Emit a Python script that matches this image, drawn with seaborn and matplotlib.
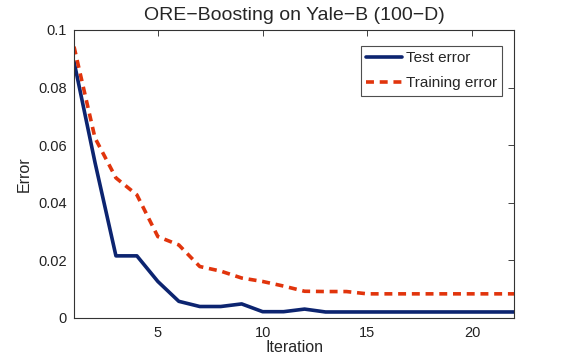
import numpy as np
import pandas as pd
import matplotlib
matplotlib.use("Agg")
import matplotlib.pyplot as plt
import seaborn as sns

# Données
iterations = list(range(1, 23))
test_error = [0.089, 0.054, 0.0215, 0.0215, 0.0126, 0.0057, 0.0039, 0.0039, 0.0048, 0.0021, 0.0021,
              0.003, 0.002, 0.002, 0.002, 0.002, 0.002, 0.002, 0.002, 0.002, 0.002, 0.002]
train_error = [0.0942, 0.0625, 0.0486, 0.0427, 0.0282, 0.0253, 0.0178, 0.0162, 0.0138, 0.0126, 0.011,
               0.0092, 0.0091, 0.0091, 0.0083, 0.0083, 0.0083, 0.0083, 0.0083, 0.0083, 0.0083, 0.0083]

df = pd.DataFrame({"Iteration": iterations, "Test error": test_error, "Training error": train_error})

sns.set_style("white")
plt.rcParams["font.family"] = ["Liberation Sans", "DejaVu Sans"]

fig, ax = plt.subplots(figsize=(5.65, 3.57), dpi=100)
fig.subplots_adjust(left=0.131, right=0.91, top=0.916, bottom=0.11)

sns.lineplot(data=df, x="Iteration", y="Test error", color="#0c2470", linewidth=2.6,
             label="Test error", ax=ax)
sns.lineplot(data=df, x="Iteration", y="Training error", color="#e1340c", linewidth=2.6,
             linestyle=(0, (2.2, 1.6)), label="Training error", ax=ax)

ax.set_xlim(1, 22)
ax.set_ylim(0, 0.1)
ax.set_xticks([5, 10, 15, 20])
ax.set_yticks([0, 0.02, 0.04, 0.06, 0.08, 0.1])
ax.set_yticklabels(["0", "0.02", "0.04", "0.06", "0.08", "0.1"])
ax.tick_params(direction="in", length=4, width=0.6, labelsize=10.5, colors="#222222",
               top=True, right=True, pad=5)
ax.tick_params(axis="x", pad=6)
for s in ax.spines.values():
    s.set_linewidth(0.8)
    s.set_color("#333333")

ax.set_xlabel("Iteration", fontsize=11.5, labelpad=0)
ax.set_ylabel("Error", fontsize=11.5, labelpad=5)
ax.set_title("ORE\u2212Boosting on Yale\u2212B (100\u2212D)", fontsize=14, pad=7)

leg = ax.legend(loc="upper right", bbox_to_anchor=(0.973, 0.945), fontsize=11, frameon=True,
                fancybox=False, edgecolor="#222222", handlelength=2.35, borderpad=0.35,
                labelspacing=0.72, handletextpad=0.26, borderaxespad=0)
leg.get_frame().set_linewidth(0.8)

plt.savefig("out.png", dpi=100)
